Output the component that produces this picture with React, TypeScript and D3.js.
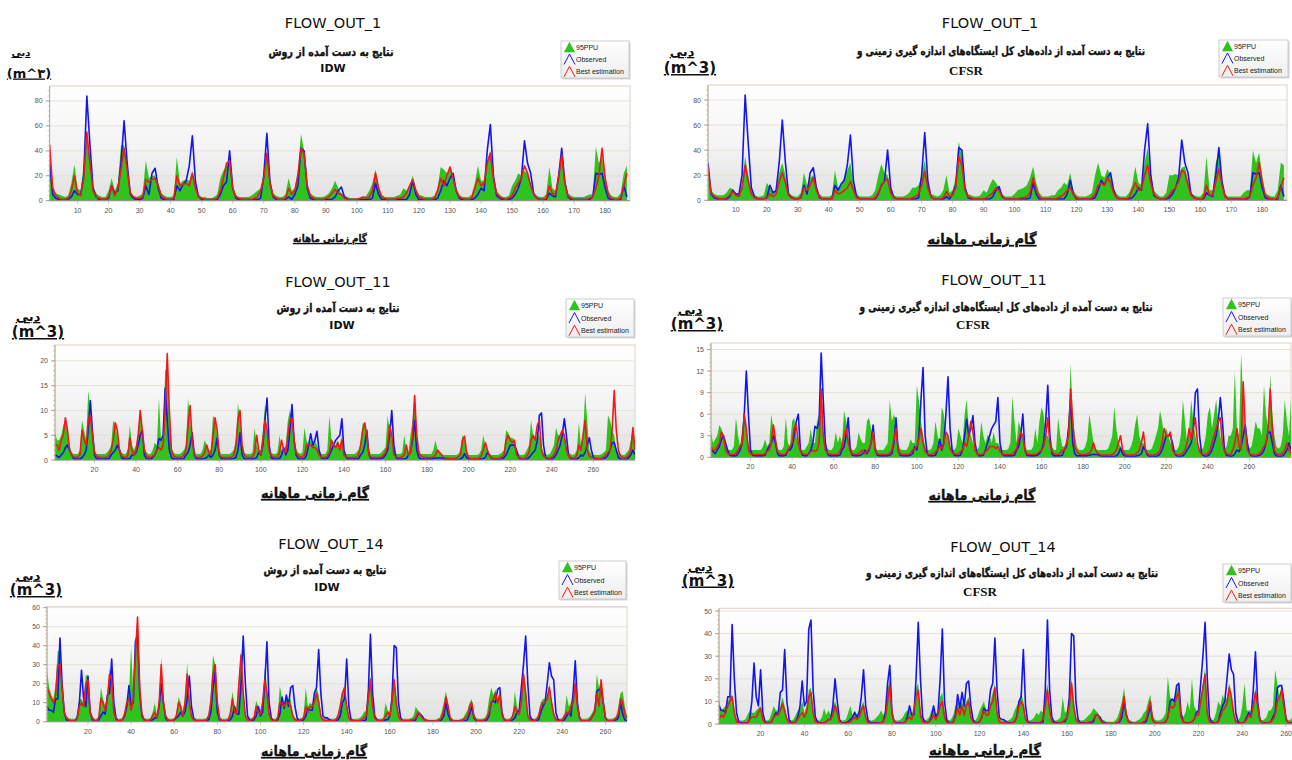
import * as d3 from "d3";

// Monthly flow, station FLOW_OUT_1 (187 steps)
const obs1 = [
  30, 5, 2, 1, 1, 1, 1, 3, 8, 5, 5, 20, 84, 45, 10, 3, 1, 1, 1, 2,
  12, 6, 8, 30, 64, 30, 5, 2, 1, 1, 2, 12, 5, 22, 26, 10, 2, 1, 1, 1,
  1, 12, 8, 13, 16, 28, 52, 15, 3, 1, 1, 1, 1, 1, 1, 5, 12, 15, 40, 10,
  2, 1, 1, 1, 1, 1, 1, 1, 2, 20, 54, 15, 3, 1, 1, 1, 1, 3, 1, 5,
  12, 42, 40, 10, 2, 1, 1, 1, 1, 1, 1, 1, 3, 8, 11, 3, 1, 1, 1, 1,
  1, 1, 1, 1, 2, 14, 5, 1, 1, 1, 1, 1, 1, 1, 1, 1, 5, 16, 5, 1,
  1, 1, 1, 1, 1, 2, 8, 16, 12, 18, 22, 8, 2, 1, 1, 1, 1, 2, 5, 10,
  8, 40, 61, 20, 4, 2, 1, 1, 1, 2, 5, 10, 18, 48, 30, 22, 5, 2, 1, 1,
  1, 6, 4, 3, 20, 42, 15, 3, 1, 1, 1, 1, 1, 1, 1, 3, 22, 21, 22, 10,
  2, 1, 1, 0, 1, 12, 3,
];
const idwBest1 = [
  45, 10, 4, 2, 1, 1, 2, 8, 20, 6, 4, 18, 55, 30, 8, 3, 2, 1, 1, 3,
  12, 4, 10, 25, 42, 25, 6, 3, 2, 2, 3, 17, 15, 17, 18, 12, 4, 2, 1, 1,
  2, 20, 12, 13, 14, 12, 22, 10, 3, 2, 1, 1, 1, 1, 2, 8, 18, 30, 32, 10,
  3, 2, 1, 1, 1, 1, 2, 3, 8, 18, 38, 14, 4, 2, 1, 1, 2, 10, 5, 8,
  20, 42, 38, 12, 4, 2, 1, 1, 1, 2, 3, 6, 9, 6, 5, 2, 1, 1, 1, 1,
  2, 3, 2, 3, 8, 22, 10, 3, 2, 1, 1, 1, 2, 2, 3, 6, 12, 17, 8, 3,
  2, 1, 1, 1, 2, 8, 18, 12, 20, 27, 18, 8, 3, 2, 1, 1, 2, 10, 18, 12,
  14, 30, 38, 18, 6, 3, 2, 1, 2, 4, 10, 14, 18, 28, 22, 12, 5, 2, 1, 1,
  2, 12, 6, 5, 18, 37, 14, 4, 2, 1, 1, 1, 1, 1, 2, 3, 10, 20, 42, 18,
  5, 2, 1, 1, 2, 12, 22,
];
const idwHi1 = [
  35, 12, 6, 5, 4, 3, 4, 14, 29, 10, 8, 30, 50, 35, 12, 6, 4, 3, 3, 8,
  18, 8, 14, 44, 45, 30, 8, 4, 3, 4, 6, 32, 18, 20, 20, 14, 6, 4, 3, 3,
  4, 35, 14, 16, 17, 16, 24, 12, 5, 3, 3, 2, 2, 3, 5, 18, 24, 28, 30, 12,
  5, 3, 3, 3, 3, 4, 6, 8, 10, 22, 35, 16, 6, 4, 3, 3, 5, 18, 8, 10,
  25, 54, 40, 14, 6, 4, 3, 3, 3, 4, 6, 10, 16, 10, 6, 4, 3, 2, 2, 2,
  2, 3, 4, 8, 14, 25, 12, 5, 3, 3, 3, 3, 4, 5, 10, 8, 12, 20, 10, 5,
  4, 3, 3, 3, 4, 10, 27, 25, 22, 26, 20, 10, 5, 3, 3, 3, 5, 14, 28, 16,
  16, 32, 40, 20, 8, 5, 3, 3, 4, 12, 16, 22, 20, 24, 22, 14, 7, 4, 3, 3,
  5, 27, 10, 8, 22, 40, 16, 6, 4, 3, 3, 3, 3, 4, 5, 5, 43, 30, 35, 20,
  8, 4, 3, 3, 6, 22, 28,
];
const cfsrBest1 = [
  25, 6, 3, 2, 1, 1, 2, 4, 7, 4, 3, 10, 28, 15, 5, 2, 1, 1, 1, 2,
  5, 3, 5, 15, 22, 14, 4, 2, 1, 1, 2, 10, 8, 12, 18, 8, 3, 1, 1, 1,
  1, 8, 5, 6, 8, 10, 15, 8, 2, 1, 1, 1, 1, 1, 2, 6, 12, 15, 17, 6,
  2, 1, 1, 1, 1, 1, 2, 3, 5, 12, 23, 10, 3, 1, 1, 1, 2, 7, 3, 4,
  10, 35, 28, 8, 3, 2, 1, 1, 1, 1, 2, 4, 6, 10, 8, 3, 1, 1, 1, 1,
  1, 2, 2, 3, 6, 18, 8, 3, 1, 1, 1, 1, 1, 2, 3, 5, 8, 10, 5, 2,
  1, 1, 1, 1, 2, 5, 12, 14, 12, 18, 14, 6, 2, 1, 1, 1, 2, 8, 14, 8,
  9, 20, 28, 14, 5, 2, 1, 1, 2, 4, 8, 10, 15, 24, 22, 12, 4, 2, 1, 1,
  2, 12, 4, 4, 15, 25, 12, 3, 1, 1, 1, 1, 1, 1, 2, 3, 12, 18, 30, 14,
  4, 2, 1, 1, 2, 10, 18,
];
const cfsrHi1 = [
  20, 8, 5, 4, 4, 4, 6, 10, 9, 6, 5, 14, 35, 20, 8, 4, 3, 3, 4, 14,
  10, 6, 8, 22, 30, 20, 6, 4, 3, 3, 6, 22, 12, 18, 20, 12, 5, 3, 3, 3,
  4, 24, 10, 12, 18, 24, 30, 12, 5, 3, 3, 3, 3, 4, 8, 20, 29, 22, 20, 10,
  4, 3, 3, 3, 4, 6, 10, 10, 12, 20, 32, 14, 5, 4, 3, 4, 8, 20, 6, 8,
  18, 47, 35, 12, 5, 4, 3, 3, 4, 8, 6, 12, 17, 14, 10, 5, 3, 3, 3, 5,
  8, 9, 10, 12, 18, 27, 14, 6, 3, 3, 3, 4, 4, 8, 10, 14, 12, 22, 8, 4,
  3, 3, 3, 4, 6, 20, 30, 20, 18, 25, 20, 10, 5, 3, 3, 3, 6, 12, 27, 14,
  12, 30, 42, 20, 8, 5, 3, 3, 6, 20, 20, 21, 20, 26, 27, 16, 6, 4, 3, 3,
  6, 35, 8, 8, 30, 38, 16, 5, 3, 3, 3, 3, 3, 6, 8, 8, 40, 30, 38, 20,
  6, 4, 3, 3, 8, 30, 28,
];

// Station FLOW_OUT_11 (280 steps)
const obs11 = [
  1, 0.8, 0.5, 1, 1.5, 2.5, 3, 2, 1, 0.3, 0.2, 0.2, 0.2, 0.5, 1, 2, 6, 12, 6, 1,
  0.3, 0.2, 0.2, 0.2, 0.2, 0.2, 0.3, 1, 1.5, 2, 3, 2, 0.5, 0.2, 0.2, 0.2, 0.3, 1, 1, 1.5,
  3, 5, 6, 1, 0.3, 0.2, 0.2, 0.5, 1, 2, 4.3, 4, 5, 14.5, 8, 2, 0.5, 0.2, 0.2, 0.2,
  0.2, 0.2, 0.3, 1, 1.5, 3, 5.5, 1, 0.3, 0.2, 0.2, 0.2, 0.3, 0.5, 1, 0.5, 1, 2, 4.5, 1,
  0.3, 0.2, 0.2, 0.2, 0.2, 0.2, 0.3, 0.5, 2, 5.5, 1, 0.3, 0.2, 0.2, 0.2, 0.2, 0.3, 0.5, 1.5, 1,
  3, 8, 12.5, 3, 0.5, 0.2, 0.2, 0.2, 0.3, 1, 2.5, 1, 2, 6, 11.2, 4, 1, 0.3, 0.2, 0.2,
  0.3, 1, 3, 5.3, 3, 4, 5.8, 2, 0.5, 0.2, 0.2, 0.3, 1, 2, 3, 4, 4.5, 5, 8.3, 2,
  0.5, 0.2, 0.2, 0.2, 0.2, 0.2, 0.3, 1, 1.5, 3, 6, 1, 0.3, 0.2, 0.2, 0.2, 0.2, 0.3, 0.5, 1,
  2, 5, 10, 3, 0.5, 0.2, 0.2, 0.2, 0.2, 0.3, 1, 1.5, 4, 8, 2, 0.5, 0.2, 0.2, 0.2, 0.2,
  0.2, 0.2, 0.3, 0.4, 0.4, 0.4, 0.4, 0.2, 0.2, 0.1, 0.1, 0.1, 0.1, 0.1, 0.1, 0.2, 0.5, 1.3, 0.5, 0.2,
  0.1, 0.1, 0.1, 0.1, 0.1, 0.2, 0.3, 0.5, 1.5, 1, 0.3, 0.1, 0.1, 0.1, 0.1, 0.2, 0.5, 1, 2, 3,
  3, 3, 2, 0.5, 0.2, 0.1, 0.1, 0.2, 0.5, 1, 1.5, 2, 4, 9, 9.5, 3, 0.5, 0.2, 0.1, 0.2,
  0.5, 1, 2, 3, 5, 8.3, 5, 1, 0.3, 0.2, 0.1, 0.2, 0.5, 1, 0.8, 1.5, 3, 4.5, 2, 0.5,
  0.2, 0.1, 0.1, 0.2, 0.3, 0.5, 1, 2, 3.5, 3.5, 2, 0.5, 0.2, 0.1, 0.1, 0.2, 0.5, 1, 2, 1,
];
const idwBest11 = [
  3, 3, 2, 4, 5, 8.5, 6, 2, 1, 0.6, 0.5, 0.6, 1, 6, 4, 3, 8, 9, 5, 1.5,
  0.8, 0.6, 0.5, 0.5, 0.5, 0.6, 1, 2, 4, 7.5, 6, 2, 0.8, 0.6, 0.5, 0.8, 4.5, 2, 1, 2,
  5, 10, 6, 2, 0.8, 0.6, 0.5, 0.8, 1, 2, 2.5, 2, 3, 10, 21.5, 10, 2, 0.8, 0.6, 0.5,
  0.5, 0.6, 1, 2, 7, 11, 4, 1, 0.6, 0.5, 0.5, 0.8, 1.5, 3, 1.5, 1, 5, 8.5, 6, 1,
  0.6, 0.5, 0.5, 0.5, 0.5, 0.6, 1, 3, 8, 10, 3, 1, 0.6, 0.5, 0.5, 0.6, 1.5, 5, 2, 1,
  4, 8, 6, 2, 0.8, 0.6, 0.5, 0.6, 1.5, 4, 2, 1.5, 5, 8, 8.5, 4, 1.5, 0.8, 0.6, 0.6,
  1, 3, 3, 3, 2.5, 2.5, 2, 1, 0.6, 0.5, 0.5, 0.8, 1.5, 4, 3, 2.5, 3.5, 2, 4, 1,
  0.6, 0.5, 0.5, 0.5, 0.5, 0.6, 1, 3, 6, 7.5, 5, 1, 0.6, 0.5, 0.5, 0.5, 0.5, 0.6, 1, 1.5,
  3, 7, 5, 1, 0.6, 0.5, 0.5, 0.6, 1, 3, 1, 1.5, 5, 13, 5, 1.5, 0.8, 0.6, 0.5, 0.5,
  0.5, 0.5, 0.6, 1, 2, 1.5, 1, 0.5, 0.4, 0.4, 0.3, 0.3, 0.3, 0.4, 0.6, 1, 4, 4.8, 1.5, 0.5,
  0.3, 0.3, 0.3, 0.3, 0.4, 0.8, 2, 3.5, 2, 0.8, 0.5, 0.3, 0.3, 0.3, 0.4, 0.6, 1, 4, 5, 4,
  3.5, 4, 1, 0.6, 0.4, 0.3, 0.4, 0.8, 1.5, 4, 5, 4, 7, 8, 2, 0.8, 0.5, 0.4, 0.4, 0.6,
  1, 2, 4, 5, 6, 5, 2, 0.8, 0.5, 0.4, 0.4, 1, 3, 2, 5, 8, 2, 0.8, 0.5, 0.4,
  0.4, 0.3, 0.3, 0.4, 0.6, 1, 1.5, 2, 6, 14, 6, 2, 0.8, 0.5, 0.4, 0.6, 1, 2, 6.5, 2,
];
const idwHi11 = [
  5.5, 4, 4, 5, 7, 8, 6, 3, 1.5, 1.2, 1.2, 1.2, 2, 8, 6, 4, 14, 10, 5, 2,
  1.2, 1.2, 1.2, 1.2, 1.2, 1.5, 2, 3, 8, 7, 5, 2.5, 1.5, 1.2, 1.2, 2, 7, 3, 2, 3,
  5, 10, 5, 2.5, 1.5, 1.2, 1.2, 2, 3.5, 3, 12.5, 4, 5, 18, 19, 8, 2.5, 1.5, 1.2, 1.2,
  1.2, 1.5, 2, 3, 12.5, 8, 4, 2, 1.2, 1.2, 1.2, 2, 4, 3, 2, 2, 9, 8, 5, 2,
  1.2, 1.2, 1.2, 1.2, 1.2, 1.5, 2, 4, 11.5, 8, 3, 1.5, 1.2, 1.2, 1.2, 1.5, 6.5, 3, 2, 2,
  6, 11, 6, 2.5, 1.5, 1.2, 1.2, 1.5, 5, 2, 2, 3, 8, 10, 8, 4, 2, 1.5, 1.2, 1.5,
  6.5, 4, 3, 4, 3, 4, 3, 2, 1.2, 1.2, 1.2, 2, 9, 4, 3, 3, 4, 3, 5, 2,
  1.2, 1.2, 1.2, 1.2, 1.2, 1.5, 2, 3, 7.5, 7, 4, 2, 1.2, 1.2, 1.2, 1.2, 1.2, 1.5, 2, 2.5,
  9, 6, 4, 2, 1.2, 1.2, 1.2, 1.5, 5, 2, 1.5, 5, 8, 13.5, 5, 2, 1.2, 1.2, 1.2, 1.2,
  1.2, 1.2, 2, 4, 2, 1.5, 1.2, 1, 1, 1, 1, 1, 1, 1, 1.2, 2, 5, 4, 2, 1,
  1, 1, 1, 1, 1.2, 2, 5, 3, 2, 1.2, 1, 1, 1, 1, 1.2, 1.5, 2, 6, 5.5, 4.5,
  4.5, 4, 2, 1.2, 1, 1, 1.2, 2, 3, 8, 5, 4, 5, 5, 2.5, 1.5, 1.2, 1, 1.2, 2,
  3, 6.5, 5, 5, 6, 5, 2.5, 1.5, 1.2, 1, 1.2, 2, 7.5, 3, 5, 13.5, 8, 2, 1.2, 1,
  1, 1, 1, 1.2, 1.5, 2, 9, 8, 6, 5, 2, 1.5, 1.2, 1, 1, 1.5, 2, 4, 7, 3,
];
const cfsrBest11 = [
  1.5, 1, 1, 1.5, 2, 3.5, 3, 1, 0.5, 0.4, 0.4, 0.4, 0.5, 1, 1.5, 2, 6, 4, 1, 0.5,
  0.4, 0.4, 0.4, 0.4, 0.4, 0.4, 0.5, 0.8, 1, 2, 4.5, 2.5, 0.8, 0.5, 0.4, 0.4, 0.5, 1, 1.5, 2,
  4, 4.5, 2, 0.8, 0.5, 0.4, 0.4, 0.5, 0.8, 1, 0.8, 1, 2, 9.5, 3, 1, 0.6, 0.5, 0.4, 0.4,
  0.4, 0.5, 0.8, 1.5, 3, 4, 2, 0.8, 0.5, 0.4, 0.4, 0.5, 0.8, 1, 0.5, 0.8, 1.2, 2, 3.5, 1,
  0.5, 0.4, 0.4, 0.4, 0.4, 0.4, 0.6, 1, 2.5, 4, 1, 0.5, 0.4, 0.4, 0.4, 0.4, 0.6, 1, 1.2, 1.5,
  2.5, 4, 2, 0.8, 0.5, 0.4, 0.4, 0.5, 0.8, 1, 1.5, 1.2, 2, 3.5, 3, 1.2, 0.6, 0.5, 0.4, 0.5,
  0.8, 1, 2, 1.5, 3, 5, 3.5, 1, 0.5, 0.4, 0.4, 0.5, 0.8, 1, 1.5, 1.5, 1.5, 1.2, 1.5, 0.8,
  0.5, 0.4, 0.4, 0.4, 0.4, 0.5, 0.8, 1.2, 2.5, 3.5, 3, 1, 0.5, 0.4, 0.4, 0.4, 0.4, 0.5, 0.8, 1,
  1.5, 3, 5.5, 2, 0.8, 0.5, 0.4, 0.4, 0.6, 1, 1, 2, 3, 9.5, 5, 1.5, 0.8, 0.5, 0.4, 0.4,
  0.4, 0.5, 0.6, 1, 2, 1, 0.6, 0.4, 0.3, 0.3, 0.3, 0.3, 0.3, 0.4, 0.6, 1, 2, 3, 1, 0.5,
  0.3, 0.3, 0.3, 0.3, 0.4, 0.6, 1, 2, 3.5, 1, 0.5, 0.3, 0.3, 0.3, 0.4, 0.6, 1, 2, 4, 3,
  3, 3.5, 1, 0.5, 0.4, 0.3, 0.4, 0.6, 1, 2, 4, 2.5, 4, 5.5, 2, 0.8, 0.5, 0.4, 0.4, 0.6,
  1, 2, 3, 4, 5, 5.5, 2, 0.8, 0.5, 0.4, 0.4, 1, 2, 4, 1.5, 1, 10.5, 4, 1, 0.5,
  0.4, 0.3, 0.3, 0.4, 0.6, 1, 1.5, 2, 4, 9.5, 4, 1, 0.5, 0.4, 0.4, 0.6, 1, 2, 1, 0.5,
];
const cfsrHi11 = [
  3.5, 2, 2.5, 3, 4.5, 4, 3, 1.5, 1, 1, 1, 1.5, 5.5, 3, 1.5, 4, 5.5, 4, 2, 1,
  1, 1, 1, 1, 1, 1.5, 2.5, 1.5, 2, 6, 4, 2, 1.2, 1, 1, 1.5, 5.5, 2, 1.5, 5,
  5.5, 3, 2, 1.2, 1, 1, 1.5, 2, 4, 2, 2, 5, 6, 9, 3, 1.5, 1.2, 1, 1, 1.5,
  3.5, 2, 3, 2, 6.5, 5, 3, 1.5, 1, 1, 1.5, 3.5, 2.5, 2, 2, 5, 5.5, 4, 3, 1.5,
  1, 1, 1, 1, 1.5, 2, 8, 5, 6, 5, 2, 1.2, 1, 1, 1, 1.5, 2.5, 2, 2, 10,
  8, 5, 3, 1.5, 1, 1, 1.2, 2, 5, 3, 2, 7, 6, 3, 3, 1.5, 1.2, 1, 1.5, 4,
  3, 2, 6, 8, 4, 3, 2, 1.2, 1, 1.5, 5, 3, 2, 3, 3, 2, 3.5, 2, 2, 1.5,
  1, 1, 1, 1.2, 2, 8.5, 5, 2, 5, 4, 3, 1.5, 1, 1, 1, 1.5, 4, 2, 5, 7,
  6, 3, 3, 2, 1.5, 1, 1, 5.5, 3, 1.5, 1.5, 2, 5, 13, 6, 3, 1.5, 1, 1, 1,
  1.5, 2.5, 6, 4, 2, 1.2, 1, 1, 1, 1, 1, 1.2, 2, 3, 7, 4, 2, 1.5, 1, 1,
  1, 1, 1.5, 2.5, 4.5, 6, 3, 2, 2, 1.2, 1, 1, 1.2, 2, 3, 4, 6.5, 5, 3, 4,
  3, 2, 1.2, 1, 1, 1.5, 3, 8, 5, 2, 4, 8, 5, 3, 1.5, 1.2, 1, 1.5, 3, 6,
  7, 4, 6, 8, 5, 3, 1.5, 1.2, 1.5, 3, 3, 4, 12, 4, 3, 14.5, 8, 3, 1.5, 1.2,
  1.5, 3, 5, 4, 4, 3, 10, 6, 4, 11.5, 6, 3, 1.5, 1.2, 1.5, 3, 8, 5, 3, 8,
];

// Station FLOW_OUT_14 (270 steps)
const obs14 = [
  8, 6, 6, 5, 12, 12, 44, 20, 5, 1, 0.5, 0.5, 0.5, 0.5, 2, 10, 27, 12, 8, 24,
  5, 1, 0.5, 0.5, 1, 3, 5, 4, 14, 15, 33, 10, 2, 0.5, 0.5, 1, 3, 8, 19, 8,
  10, 42, 46, 15, 3, 1, 0.5, 0.5, 0.5, 1, 2, 2, 8, 20, 10, 2, 0.5, 0.5, 0.5, 1,
  2, 3, 5, 3, 5, 12, 24, 8, 2, 0.5, 0.5, 0.5, 0.5, 0.5, 0.5, 1, 5, 18, 26, 5,
  1, 0.5, 0.5, 0.5, 0.5, 1, 3, 8, 4, 4, 20, 45, 20, 3, 1, 0.5, 1, 3, 8, 3,
  5, 20, 42, 10, 2, 0.5, 0.5, 1, 4, 13, 7, 14, 8, 18, 19, 8, 2, 0.5, 0.5, 1,
  3, 7, 6, 6, 15, 18, 38, 15, 3, 2, 2, 1, 0.5, 0.5, 0.5, 1, 3, 10, 12, 33,
  8, 1, 0.5, 0.5, 0.5, 0.5, 0.5, 0.5, 1, 15, 46, 15, 3, 1, 0.5, 0.5, 0.5, 1, 1, 3,
  12, 40, 39, 10, 2, 0.5, 0.5, 0.5, 0.5, 0.5, 0.5, 1, 4, 4, 3, 1, 0.5, 0.3, 0.2, 0.2,
  0, 0.2, 0.5, 1, 3, 10, 4, 1, 0.5, 0.3, 0.2, 0.2, 0.2, 0.3, 0.5, 1, 4, 8, 2, 0.5,
  0.3, 0.3, 0.3, 0.5, 1, 3, 10, 11, 10, 17, 18, 5, 1, 0.5, 0.5, 0.5, 1, 2, 5, 6,
  18, 30, 45, 20, 3, 1, 0.5, 0.5, 1, 5, 8, 10, 20, 31, 24, 22, 5, 1, 0.5, 0.5,
  1, 3, 5, 3, 15, 32, 10, 2, 0.5, 0.5, 0.5, 0.5, 1, 3, 5, 16, 17, 17, 10, 2,
  0.5, 0.5, 0.5, 0.5, 1, 2, 10, 4, 1, 0.5,
];
const idwBest14 = [
  18, 15, 12, 10, 14, 30, 30, 18, 5, 2, 1, 0.5, 0.5, 0.5, 2, 8, 10, 8, 20, 22,
  5, 2, 0.5, 0.5, 2, 12, 10, 6, 12, 25, 22, 5, 1, 0.5, 0.5, 1, 4, 10, 12, 6,
  12, 35, 55, 18, 4, 1, 0.5, 0.5, 1, 3, 5, 2, 10, 30, 10, 3, 1, 0.5, 0.5, 1,
  3, 10, 8, 3, 10, 25, 10, 3, 1, 0.5, 0.5, 0.5, 0.5, 0.5, 1, 3, 10, 25, 30, 10,
  2, 0.5, 0.5, 0.5, 1, 4, 12, 5, 4, 20, 35, 15, 3, 1, 0.5, 1, 2, 8, 5, 4,
  10, 22, 15, 4, 1, 0.5, 0.5, 2, 10, 10, 8, 10, 10, 8, 3, 1, 0.5, 0.5, 1, 2,
  8, 5, 8, 8, 10, 15, 10, 3, 1, 0.5, 0.5, 0.5, 0.5, 0.5, 1, 3, 8, 15, 18, 8,
  2, 0.5, 0.5, 0.5, 0.5, 0.5, 1, 2, 3, 12, 22, 8, 2, 0.5, 0.5, 0.5, 1, 3, 5, 3,
  10, 22, 10, 3, 1, 0.5, 0.5, 0.5, 0.5, 1, 1, 2, 5, 4, 2, 1, 0.5, 0.3, 0.3, 0.3,
  0.3, 0.5, 1, 2, 6, 13, 8, 2, 0.5, 0.3, 0.3, 0.3, 0.5, 1, 2, 3, 8, 10, 3, 1,
  0.5, 0.5, 0.5, 1, 2, 5, 10, 12, 15, 10, 14, 4, 1, 0.5, 0.5, 1, 3, 8, 5, 4,
  10, 25, 15, 3, 1, 0.5, 0.5, 1, 3, 8, 10, 10, 12, 18, 10, 4, 1, 0.5, 0.5, 1,
  3, 5, 4, 8, 10, 20, 8, 2, 0.5, 0.5, 0.5, 0.5, 1, 3, 5, 15, 8, 22, 10, 2,
  0.5, 0.5, 0.5, 1, 2, 4, 12, 10, 4, 2,
];
const idwHi14 = [
  27, 18, 14, 12, 20, 37, 38, 20, 6, 3, 2, 1.5, 1.5, 1.5, 3, 12, 12, 10, 25, 23,
  6, 3, 1.5, 1.5, 3, 18, 12, 8, 14, 28, 24, 6, 2, 1.5, 1.5, 2, 5, 12, 14, 40,
  15, 38, 56, 20, 5, 2, 1.5, 1.5, 2, 5, 10, 3, 12, 34, 12, 4, 2, 1.5, 1.5, 2,
  4, 13, 10, 4, 12, 31, 12, 4, 2, 1.5, 1.5, 1.5, 1.5, 1.5, 2, 4, 15, 35, 30, 12,
  3, 1.5, 1.5, 1.5, 2, 5, 16, 8, 5, 22, 38, 18, 4, 2, 1.5, 2, 3, 11, 8, 5,
  12, 28, 20, 5, 2, 1.5, 1.5, 3, 19, 12, 10, 14, 12, 12, 4, 2, 1.5, 1.5, 2, 3,
  18, 8, 10, 9, 12, 18, 14, 4, 2, 1.5, 1.5, 1.5, 1.5, 1.5, 2, 4, 10, 16, 18, 10,
  3, 1.5, 1.5, 1.5, 1.5, 2, 3, 5, 6, 18, 24, 10, 3, 1.5, 1.5, 1.5, 2, 10, 6, 4,
  16, 24, 12, 4, 2, 1.5, 1.5, 1.5, 1.5, 2, 3, 8, 6, 5, 3, 2, 1.5, 1, 1, 1,
  1, 1.5, 2, 5, 10, 16, 10, 3, 1.5, 1, 1, 1, 1.5, 2, 4, 6, 10, 12, 4, 2,
  1.5, 1.5, 1.5, 2, 4, 12, 18, 14, 17, 12, 16, 5, 2, 1.5, 1.5, 2, 4, 16, 8, 5,
  12, 26, 18, 4, 2, 1.5, 1.5, 2, 4, 10, 12, 12, 14, 20, 12, 5, 2, 1.5, 1.5, 2,
  4, 14, 8, 10, 14, 22, 10, 3, 1.5, 1.5, 1.5, 2, 3, 5, 8, 25, 18, 22, 12, 3,
  1.5, 1.5, 1.5, 2, 3, 8, 15, 16, 8, 3,
];
const cfsrBest14 = [
  2, 4, 3, 5, 8, 10, 12, 5, 1, 0.5, 0.3, 0.3, 0.3, 0.5, 2, 3, 3, 3, 5, 7,
  2, 0.5, 0.3, 0.3, 1, 3, 4, 4, 6, 9, 6, 2, 0.5, 0.3, 0.3, 1, 2, 4, 5, 3,
  5, 12, 14, 5, 1, 0.5, 0.3, 0.3, 0.5, 1, 2, 2, 4, 8, 5, 1, 0.5, 0.3, 0.3, 0.5,
  1, 2, 3, 2, 3, 6, 8, 3, 0.5, 0.3, 0.3, 0.3, 0.3, 0.3, 0.5, 1, 3, 10, 17, 5,
  1, 0.3, 0.3, 0.3, 0.5, 1, 2, 3, 2, 6, 12, 15, 4, 1, 0.5, 0.5, 1, 2, 4, 2,
  4, 8, 10, 3, 0.5, 0.3, 0.3, 1, 3, 7, 4, 8, 4, 8, 10, 3, 1, 0.3, 0.3, 1,
  3, 6, 4, 4, 8, 10, 16, 5, 1, 0.5, 0.5, 0.3, 0.3, 0.3, 0.5, 1, 3, 8, 10, 8,
  2, 0.5, 0.3, 0.3, 0.3, 0.3, 0.5, 1, 2, 8, 15, 6, 1, 0.3, 0.3, 0.3, 0.5, 1, 2, 3,
  8, 18, 8, 2, 0.5, 0.3, 0.3, 0.3, 0.5, 1, 1, 2, 4, 4, 2, 0.5, 0.3, 0.2, 0.2, 0.2,
  0.2, 0.3, 0.5, 2, 6, 12, 4, 1, 0.3, 0.2, 0.2, 0.2, 0.3, 0.5, 1, 2, 6, 10, 2, 0.5,
  0.3, 0.3, 0.3, 0.5, 1, 3, 8, 7, 8, 12, 14, 3, 1, 0.3, 0.3, 0.5, 1, 2, 4, 4,
  10, 16, 22, 5, 1, 0.3, 0.3, 0.5, 1, 3, 6, 7, 9, 16, 12, 5, 1, 0.3, 0.3, 0.5,
  1, 2, 4, 3, 8, 14, 8, 2, 0.5, 0.3, 0.3, 0.5, 1, 2, 4, 10, 12, 15, 8, 2,
  0.5, 0.3, 0.3, 0.5, 1, 1, 5, 8, 4, 1,
];
const cfsrHi14 = [
  11, 6, 7, 8, 10, 12, 13, 6, 2, 1.5, 1.5, 1.5, 2, 4, 6, 5, 5, 6, 7, 8,
  3, 1.5, 1.5, 2, 5, 8, 6, 6, 8, 12, 8, 3, 1.5, 1.5, 2, 4, 6, 7, 10, 5,
  8, 15, 16, 6, 2, 1.5, 1.5, 3, 7, 4, 6, 4, 8, 10, 7, 2, 1.5, 1.5, 2, 5,
  8, 4, 6, 4, 6, 8, 10, 4, 1.5, 1.5, 1.5, 2, 3, 4, 6, 4, 6, 15, 20, 6,
  2, 1.5, 1.5, 2, 3, 5, 6, 6, 4, 8, 16, 18, 6, 2, 1.5, 2, 3, 6, 8, 4,
  6, 12, 14, 5, 2, 1.5, 2, 4, 8, 10, 8, 10, 8, 10, 12, 5, 2, 1.5, 3, 6,
  8, 10, 6, 6, 10, 14, 18, 6, 2, 1.5, 1.5, 1.5, 1.5, 2, 3, 6, 8, 10, 14, 10,
  3, 1.5, 1.5, 2, 3, 5, 4, 6, 5, 12, 18, 8, 2, 1.5, 1.5, 2, 3, 12, 5, 6,
  12, 20, 10, 3, 1.5, 1.5, 1.5, 2, 3, 4, 5, 7, 6, 5, 3, 2, 1.5, 1, 1, 1,
  1, 1.5, 3, 6, 10, 16, 6, 2, 1.5, 1, 1, 1.5, 2, 3, 5, 6, 10, 13, 4, 2,
  1.5, 1.5, 2, 3, 5, 21, 12, 10, 12, 15, 17, 5, 3, 5, 10, 6, 20, 8, 6, 5,
  12, 18, 25, 6, 2, 1.5, 2, 5, 10, 8, 13, 10, 12, 18, 14, 6, 2, 1.5, 3, 8,
  18, 6, 6, 6, 10, 16, 10, 3, 1.5, 2, 3, 6, 6, 8, 24, 18, 12, 18, 10, 3,
  1.5, 2, 3, 4, 6, 8, 10, 12, 6, 2,
];

const legendLabels = ["95PPU", "Observed", "Best estimation"];

const SUB_IDW = "نتایج به دست آمده از روش";
const SUB_CFSR = "نتایج به دست آمده از داده\u200cهای کل ایستگاه\u200cهای اندازه گیری زمینی و";
const Y_LABEL = "دبی";
const X_LABEL = "گام زمانی ماهانه";

const GREEN = "#2ec41c";
const BLUE = "#1414f0";
const RED = "#f01818";
const SANS = "'DejaVu Sans', sans-serif";
const SMALL = "'Liberation Sans', Arial, sans-serif";

type Pt = [number, number];
interface PanelSpec {
  id: string;
  title: string;
  method: "IDW" | "CFSR";
  unit: string;
  obs: number[];
  best: number[];
  hi: number[];
  left: number;
  right: number;
  top: number;
  zero: number;
  xMax: number;
  yMax: number;
  yStep: number;
  xStep: number;
  titleAt: Pt;
  subAt: Pt;
  subW: number;
  sub2At: Pt;
  ylAt: Pt;
  ylSize: number;
  unitAt: Pt;
  unitSize: number;
  legend: [number, number, number, number];
  xlAt: Pt;
  xlSize: number;
  xlW: number;
}

const panels: PanelSpec[] = [
  {
    id: "tl", title: "FLOW_OUT_1", method: "IDW", unit: "(m^۳)",
    obs: obs1, best: idwBest1, hi: idwHi1,
    left: 49.6, right: 630, top: 86, zero: 200.7, xMax: 188, yMax: 92, yStep: 20, xStep: 10,
    titleAt: [333, 28], subAt: [331, 56], subW: 125, sub2At: [333, 72],
    ylAt: [21, 56], ylSize: 10, unitAt: [29, 77.5], unitSize: 13,
    legend: [561, 41, 68, 37], xlAt: [330, 242], xlSize: 10.5, xlW: 74,
  },
  {
    id: "tr", title: "FLOW_OUT_1", method: "CFSR", unit: "(m^3)",
    obs: obs1, best: cfsrBest1, hi: cfsrHi1,
    left: 708, right: 1287, top: 85, zero: 200.3, xMax: 188, yMax: 92, yStep: 20, xStep: 10,
    titleAt: [990, 28], subAt: [1001, 55], subW: 288, sub2At: [966, 74.5],
    ylAt: [682, 56], ylSize: 13, unitAt: [690, 73], unitSize: 15,
    legend: [1219, 40, 69, 37], xlAt: [982, 244], xlSize: 14, xlW: 109,
  },
  {
    id: "ml", title: "FLOW_OUT_11", method: "IDW", unit: "(m^3)",
    obs: obs11, best: idwBest11, hi: idwHi11,
    left: 55, right: 635, top: 345, zero: 460, xMax: 280, yMax: 23.2, yStep: 5, xStep: 20,
    titleAt: [338, 287], subAt: [338, 312], subW: 123, sub2At: [342, 329],
    ylAt: [28, 321], ylSize: 13, unitAt: [38, 337], unitSize: 15,
    legend: [566, 299, 68, 38], xlAt: [315, 498], xlSize: 14, xlW: 108,
  },
  {
    id: "mr", title: "FLOW_OUT_11", method: "CFSR", unit: "(m^3)",
    obs: obs11, best: cfsrBest11, hi: cfsrHi11,
    left: 711, right: 1291, top: 343, zero: 457.3, xMax: 280, yMax: 15.9, yStep: 3, xStep: 20,
    titleAt: [994, 285], subAt: [1006, 311], subW: 293, sub2At: [973, 328.5],
    ylAt: [690, 313.5], ylSize: 13, unitAt: [697, 329], unitSize: 15,
    legend: [1223, 298, 68, 38], xlAt: [982, 500], xlSize: 14, xlW: 107,
  },
  {
    id: "bl", title: "FLOW_OUT_14", method: "IDW", unit: "(m^3)",
    obs: obs14, best: idwBest14, hi: idwHi14,
    left: 47, right: 627, top: 606.7, zero: 721.7, xMax: 270, yMax: 60.5, yStep: 10, xStep: 20,
    titleAt: [331, 549], subAt: [325, 574], subW: 123, sub2At: [327, 591],
    ylAt: [28, 579.5], ylSize: 13, unitAt: [36, 595], unitSize: 15,
    legend: [559, 561, 67, 38], xlAt: [314, 756], xlSize: 14, xlW: 106,
  },
  {
    id: "br", title: "FLOW_OUT_14", method: "CFSR", unit: "(m^3)",
    obs: obs14, best: cfsrBest14, hi: cfsrHi14,
    left: 719, right: 1308, top: 608.3, zero: 724, xMax: 270, yMax: 51.2, yStep: 10, xStep: 20,
    titleAt: [1003, 552], subAt: [1012, 577], subW: 292, sub2At: [980, 596],
    ylAt: [700, 571], ylSize: 13, unitAt: [708, 585.5], unitSize: 15,
    legend: [1223, 564, 68, 38], xlAt: [985, 755], xlSize: 14, xlW: 112,
  },
];

const Legend = ({ box }: { box: [number, number, number, number] }) => {
  const [x, y, w, h] = box;
  const row = h / 3;
  return (
    <g>
      <rect x={x + 1.5} y={y + 1.5} width={w} height={h} fill="#d4d4d4" />
      <rect x={x} y={y} width={w} height={h} fill="url(#legendBg)" stroke="#c2c2c2" strokeWidth={0.8} />
      {legendLabels.map((label, i) => {
        const cy = y + row * (i + 0.5);
        const tx = x + 3;
        const tri = `M${tx},${cy + 5} L${tx + 5.5},${cy - 5.5} L${tx + 11},${cy + 5}`;
        return (
          <g key={label}>
            {i === 0 ? (
              <path d={tri + " Z"} fill={GREEN} />
            ) : (
              <path d={tri} fill="none" stroke={i === 1 ? BLUE : RED} strokeWidth={1} />
            )}
            <text x={x + 15} y={cy + 2.5} fontSize={7} fontFamily={SMALL} fill="#222">
              {label}
            </text>
          </g>
        );
      })}
    </g>
  );
};

const Panel = ({ p }: { p: PanelSpec }) => {
  const x = d3.scaleLinear().domain([1, p.xMax]).range([p.left, p.right]);
  const y = d3.scaleLinear().domain([0, p.yMax]).range([p.zero, p.top]);
  const area = d3
    .area<number>()
    .x((_, i) => x(i + 1))
    .y0(y(0))
    .y1((d) => y(d));
  const line = d3
    .line<number>()
    .x((_, i) => x(i + 1))
    .y((d) => y(d));
  const yTicks = d3.range(0, p.yMax, p.yStep);
  const minor = d3.range(0, p.yMax, p.yStep / 5);
  const xTicks = d3.range(p.xStep, p.xMax, p.xStep);
  const w = p.right - p.left;
  const h = p.zero - p.top;
  const clipId = `clip-${p.id}`;
  const heavy = { stroke: "#111", strokeWidth: 0.35, paintOrder: "stroke" } as const;

  return (
    <g>
      <defs>
        <clipPath id={clipId}>
          <rect x={p.left} y={p.top} width={w} height={h} />
        </clipPath>
      </defs>
      <rect x={p.left} y={p.top} width={w} height={h} fill="url(#plotBg)" stroke="#dcd4c4" strokeWidth={1} />
      {yTicks.slice(1).map((t) => (
        <line key={t} x1={p.left} x2={p.right} y1={y(t)} y2={y(t)} stroke="#e2dccf" strokeWidth={0.8} />
      ))}
      <g clipPath={`url(#${clipId})`}>
        <path d={area(p.hi) ?? ""} fill={GREEN} />
        <path d={line(p.obs) ?? ""} fill="none" stroke={BLUE} strokeWidth={1.6} strokeLinejoin="round" />
        <path d={line(p.best) ?? ""} fill="none" stroke={RED} strokeWidth={1.6} strokeLinejoin="round" />
      </g>
      {/* axes */}
      <line x1={p.left} x2={p.left} y1={p.top} y2={p.zero} stroke="#b5ab95" strokeWidth={1} />
      <line x1={p.left} x2={p.right} y1={p.zero} y2={p.zero} stroke="#8c8c8c" strokeWidth={1} />
      {minor.map((t) => (
        <line key={`m${t}`} x1={p.left - 2} x2={p.left} y1={y(t)} y2={y(t)} stroke="#b5ab95" strokeWidth={0.6} />
      ))}
      {yTicks.map((t) => (
        <g key={`y${t}`}>
          <line x1={p.left - 4} x2={p.left} y1={y(t)} y2={y(t)} stroke="#9a927e" strokeWidth={0.8} />
          <text x={p.left - 7} y={y(t) + 2.5} textAnchor="end" fontSize={7} fontFamily={SMALL} fill="#555">
            {t}
          </text>
        </g>
      ))}
      {xTicks.map((t) => (
        <g key={`x${t}`}>
          <line x1={x(t)} x2={x(t)} y1={p.zero} y2={p.zero + 3} stroke="#9a9a9a" strokeWidth={0.6} />
          <text x={x(t)} y={p.zero + 12} textAnchor="middle" fontSize={7} fontFamily={SMALL} fill="#555">
            {t}
          </text>
        </g>
      ))}

      {/* titles */}
      <text x={p.titleAt[0]} y={p.titleAt[1]} textAnchor="middle" fontSize={14.5} fontFamily={SANS} fill="#111">
        {p.title}
      </text>
      <text
        x={p.subAt[0]}
        y={p.subAt[1]}
        textAnchor="middle"
        direction="rtl"
        fontSize={11.5}
        fontWeight="bold"
        fontFamily={SANS}
        fill="#111"
        textLength={p.subW}
        lengthAdjust="spacingAndGlyphs"
        {...heavy}
      >
        {p.method === "IDW" ? SUB_IDW : SUB_CFSR}
      </text>
      <text
        x={p.sub2At[0]}
        y={p.sub2At[1]}
        textAnchor="middle"
        fontSize={p.method === "IDW" ? 11 : 13}
        fontWeight="bold"
        fontFamily={p.method === "IDW" ? SANS : "'Liberation Serif', serif"}
        fill="#111"
      >
        {p.method}
      </text>

      {/* axis labels */}
      <text x={p.ylAt[0]} y={p.ylAt[1]} textAnchor="middle" direction="rtl" fontSize={p.ylSize} fontWeight="bold" fontFamily={SANS} fill="#111" style={{ textDecoration: "underline" }}>
        {Y_LABEL}
      </text>
      <text x={p.unitAt[0]} y={p.unitAt[1]} textAnchor="middle" fontSize={p.unitSize} fontWeight="bold" fontFamily={SANS} fill="#111" style={{ textDecoration: "underline" }}>
        {p.unit}
      </text>
      <text
        x={p.xlAt[0]}
        y={p.xlAt[1]}
        textAnchor="middle"
        direction="rtl"
        fontSize={p.xlSize}
        fontWeight="bold"
        fontFamily={SANS}
        fill="#111"
        textLength={p.xlW}
        lengthAdjust="spacingAndGlyphs"
        style={{ textDecoration: "underline" }}
        {...heavy}
      >
        {X_LABEL}
      </text>

      <Legend box={p.legend} />
    </g>
  );
};

export default function App() {
  return (
    <svg
      width={1292}
      height={760}
      viewBox="0 0 1292 760"
      style={{ position: "absolute", left: 0, top: 0, background: "#fff" }}
    >
      <defs>
        <linearGradient id="plotBg" x1="0" y1="0" x2="0" y2="1">
          <stop offset="0" stopColor="#ffffff" />
          <stop offset="0.55" stopColor="#f3f3f3" />
          <stop offset="1" stopColor="#e0e0e0" />
        </linearGradient>
        <linearGradient id="legendBg" x1="0" y1="0" x2="0" y2="1">
          <stop offset="0" stopColor="#ffffff" />
          <stop offset="1" stopColor="#eeeeee" />
        </linearGradient>
      </defs>
      <rect width={1292} height={760} fill="#fff" />
      {panels.map((p) => (
        <Panel key={p.id} p={p} />
      ))}
    </svg>
  );
}
